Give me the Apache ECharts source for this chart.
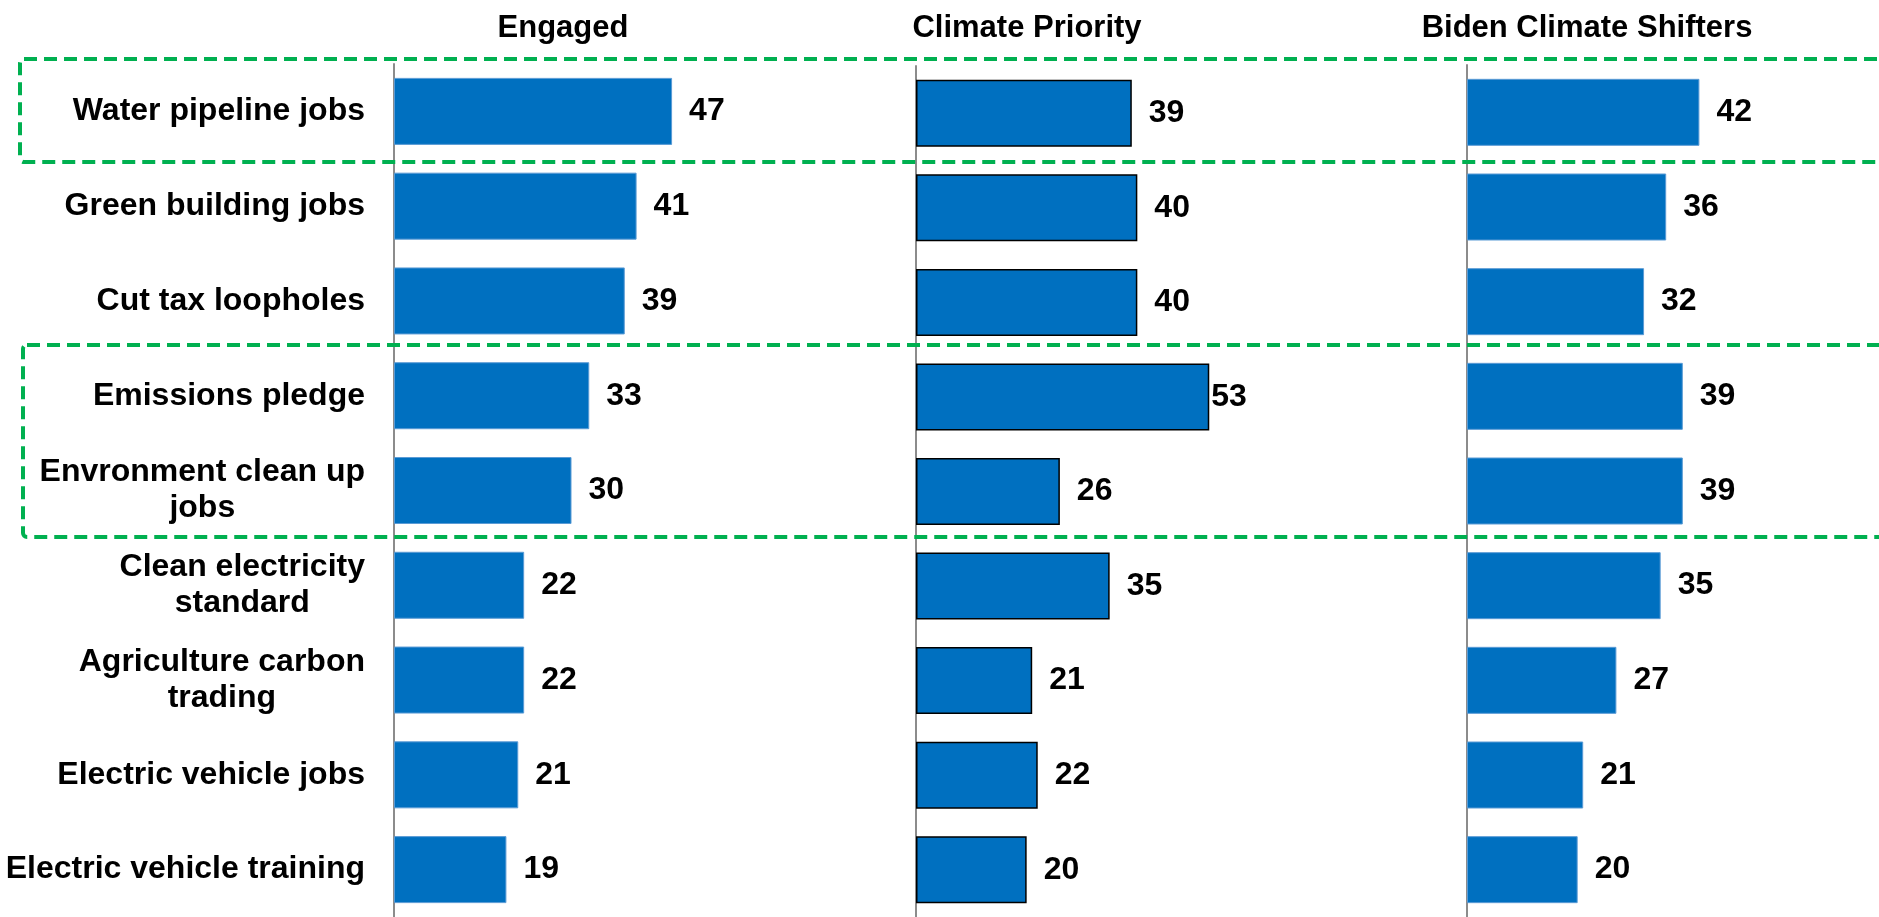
<!DOCTYPE html>
<html>
<head>
<meta charset="utf-8">
<script src="https://cdn.jsdelivr.net/npm/echarts@6/dist/echarts.min.js"></script>
<style>
  html, body { margin: 0; padding: 0; background: #fff; }
  #chart { width: 1879px; height: 917px; }
</style>
</head>
<body>
<div id="chart"></div>
<script>
var categories = [
  'Water pipeline jobs',
  'Green building jobs',
  'Cut tax loopholes',
  'Emissions pledge',
  'Envronment clean up\njobs',
  'Clean electricity\nstandard',
  'Agriculture carbon\ntrading',
  'Electric vehicle jobs',
  'Electric vehicle training'
];
var panelTitles = ['Engaged', 'Climate Priority', 'Biden Climate Shifters'];
var engaged = [47, 41, 39, 33, 30, 22, 22, 21, 19];
var climatePriority = [39, 40, 40, 53, 26, 35, 21, 22, 20];
var bidenShifters = [42, 36, 32, 39, 39, 35, 27, 21, 20];

var FONT = '"Liberation Sans", Arial, sans-serif';
var BLUE = '#0070C0';
var GREEN = '#00B050';

var chart = echarts.init(document.getElementById('chart'));

// one grid per panel, each with its own scale like the original slide
var grids = [
  { left: 394, top: 64, width: 355, height: 860 },
  { left: 916, top: 66, width: 332, height: 855 },
  { left: 1467, top: 65, width: 332, height: 853 }
];

function catAxis(idx, showLabels) {
  return {
    type: 'category',
    gridIndex: idx,
    data: categories,
    inverse: true,
    axisTick: { show: false },
    axisLine: { show: true, lineStyle: { color: '#8c8c8c', width: 2 } },
    axisLabel: {
      show: showLabels,
      margin: 29,
      align: 'right',
      formatter: function (v) {
        return v.split('\n').map(function (s) { return '{a|' + s + '}'; }).join('\n');
      },
      rich: {
        a: {
          fontFamily: FONT,
          fontSize: 32,
          fontWeight: 'bold',
          color: '#000',
          lineHeight: 36,
          align: 'center'
        }
      }
    }
  };
}

function valAxis(idx) {
  return {
    type: 'value',
    gridIndex: idx,
    min: 0,
    max: 60,
    show: false,
    splitLine: { show: false }
  };
}

var valueLabel = {
  show: true,
  position: 'right',
  distance: 17,
  color: '#000',
  fontFamily: FONT,
  fontSize: 32,
  fontWeight: 'bold'
};

var option = {
  animation: false,
  backgroundColor: '#fff',
  title: panelTitles.map(function (t, i) {
    return {
      text: t,
      left: [558, 1022, 1582][i],
      top: 8,
      textAlign: 'center',
      textStyle: { fontFamily: FONT, fontSize: 31, fontWeight: 'bold', color: '#000' }
    };
  }),
  grid: grids,
  xAxis: [valAxis(0), valAxis(1), valAxis(2)],
  yAxis: [catAxis(0, true), catAxis(1, false), catAxis(2, false)],
  series: [
    {
      name: panelTitles[0],
      type: 'bar',
      xAxisIndex: 0,
      yAxisIndex: 0,
      barWidth: 67,
      data: engaged,
      itemStyle: { color: BLUE, borderColor: '#5B9BD5', borderWidth: 1 },
      label: valueLabel
    },
    {
      name: panelTitles[1],
      type: 'bar',
      xAxisIndex: 1,
      yAxisIndex: 1,
      barWidth: 67,
      // the 53 label sits right against its bar in the original
      data: climatePriority.map(function (v, i) {
        return i === 3 ? { value: v, label: { distance: 2 } } : v;
      }),
      itemStyle: { color: BLUE, borderColor: '#000', borderWidth: 1.5 },
      label: valueLabel
    },
    {
      name: panelTitles[2],
      type: 'bar',
      xAxisIndex: 2,
      yAxisIndex: 2,
      barWidth: 67,
      data: bidenShifters,
      itemStyle: { color: BLUE, borderColor: '#5B9BD5', borderWidth: 1 },
      label: valueLabel
    }
  ],
  graphic: [
    {
      type: 'rect',
      z: 10,
      shape: { x: 20, y: 59, width: 1900, height: 103, r: 4 },
      style: { fill: 'none', stroke: GREEN, lineWidth: 4, lineDash: [13, 7] }
    },
    {
      type: 'rect',
      z: 10,
      shape: { x: 23, y: 345, width: 1900, height: 192, r: 4 },
      style: { fill: 'none', stroke: GREEN, lineWidth: 4, lineDash: [13, 7] }
    }
  ]
};

chart.setOption(option);
</script>
</body>
</html>
